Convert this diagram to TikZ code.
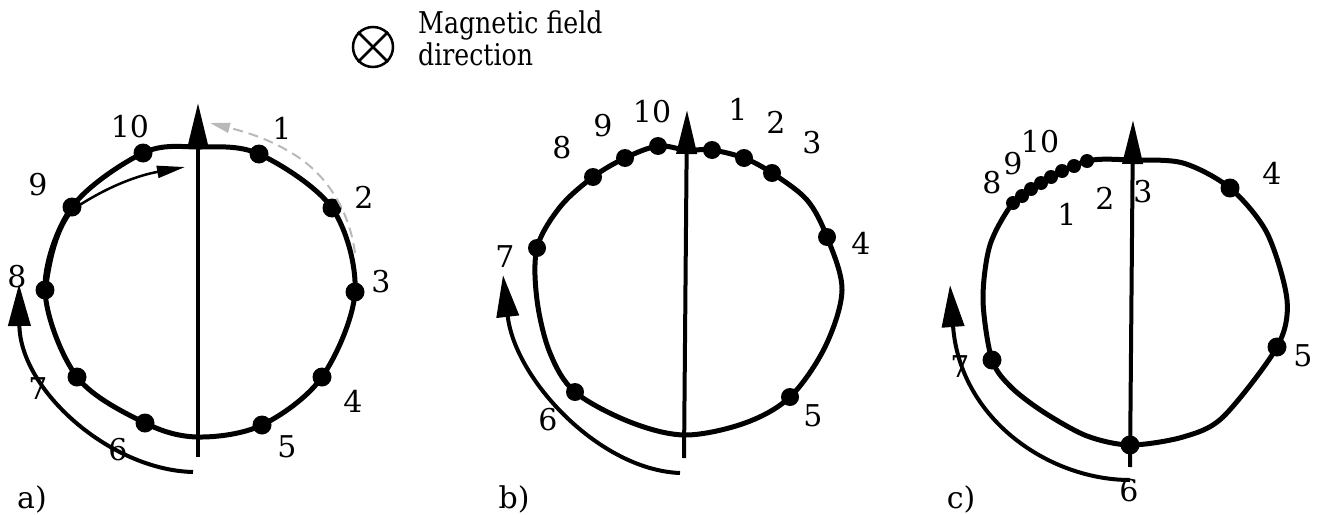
\documentclass[tikz,border=0pt]{standalone}
\usepackage{graphicx}
\usepackage{fontspec}
\setmainfont{DejaVu Serif}
\usetikzlibrary{arrows.meta}
\begin{document}
\begin{tikzpicture}[x=1pt,y=-1pt,
  loopline/.style={line width=5pt, line join=round},
  axisline/.style={line width=4pt, -{Triangle[width=20pt,length=44pt]}},
  motion/.style={line width=4pt, -{Triangle[width=22pt,length=42pt]}},
  thinarrow/.style={line width=2.5pt, -{Triangle[width=12pt,length=28pt]}},
  grayarrow/.style={line width=2pt, gray!55, dash pattern=on 10pt off 6pt, -{Triangle[width=10pt,length=20pt]}},
  dotnode/.style={circle, fill=black, inner sep=0pt, minimum size=19pt},
  smalldot/.style={circle, fill=black, inner sep=0pt, minimum size=14pt},
  lbl/.style={font=\fontsize{30}{32}\selectfont, inner sep=0pt}]
\useasboundingbox (0,0) rectangle (1319,514);

% ---------- legend ----------
\node[circle, draw, line width=2.5pt, minimum size=40pt, inner sep=0pt] (sym) at (373,47) {};
\draw[line width=2.5pt] (sym.45) -- (sym.225);
\draw[line width=2.5pt] (sym.135) -- (sym.315);
\node[lbl, anchor=north west, align=left] (legend) at (418,11) {\scalebox{0.84}[1]{Magnetic field}\\\scalebox{0.84}[1]{direction}};

% ---------- a) ----------
\coordinate (aT) at (198,147);
\coordinate (aB) at (198,437);
\coordinate (a1) at (259,154);
\coordinate (a2) at (332,208);
\coordinate (a3) at (355,292);
\coordinate (a4) at (322,377);
\coordinate (a5) at (262,425);
\coordinate (a6) at (145,423);
\coordinate (a7) at (77,377);
\coordinate (a8) at (45,290);
\coordinate (a9) at (72,207);
\coordinate (a10) at (143,153);
\draw[loopline] plot[smooth cycle, tension=0.55] coordinates {(aT) (a1) (a2) (a3) (a4) (a5) (aB) (a6) (a7) (a8) (a9) (a10)};
\foreach \i in {1,...,10} {\node[dotnode] (da\i) at (a\i) {};}
\coordinate (aAxB) at (198,457);
\coordinate (aAxT) at (198,103);
\draw[axisline] (aAxB) -- (aAxT);
\coordinate (aMs) at (193,472);
\coordinate (aMe) at (19,284);
\draw[motion] (aMs) .. controls (110,470) and (20,390) .. (aMe);
\coordinate (aIs) at (47,287);
\coordinate (aIm) at (75,208);
\coordinate (aIe) at (185,167);
\draw[thinarrow] (aIs) .. controls (52,250) and (60,225) .. (aIm) .. controls (110,185) and (140,175) .. (aIe);
\coordinate (aGs) at (355,253);
\coordinate (aGm) at (290,152);
\coordinate (aGe) at (210,123);
\draw[grayarrow] (aGs) .. controls (350,215) and (330,175) .. (aGm) .. controls (270,140) and (250,133) .. (aGe);
\node[lbl] (la10) at (130,127) {10};
\node[lbl] (la1) at (282,128) {1};
\node[lbl] (la2) at (364,197) {2};
\node[lbl] (la3) at (381,282) {3};
\node[lbl] (la4) at (353,401) {4};
\node[lbl] (la5) at (287,447) {5};
\node[lbl] (la6) at (118,450) {6};
\node[lbl] (la7) at (38,389) {7};
\node[lbl] (la8) at (17,277) {8};
\node[lbl] (la9) at (38,185) {9};
\node[lbl, anchor=base] (capa) at (32,508) {a)};

% ---------- b) ----------
\coordinate (bT) at (686,150);
\coordinate (b1) at (712,150);
\coordinate (b2) at (744,158);
\coordinate (b3) at (772,173);
\coordinate (bR1) at (807,200);
\coordinate (b4) at (827,237);
\coordinate (bR2) at (842,290);
\coordinate (bR3) at (825,347);
\coordinate (b5) at (790,397);
\coordinate (bB1) at (745,423);
\coordinate (bB) at (685,435);
\coordinate (bB2) at (630,422);
\coordinate (b6) at (575,392);
\coordinate (bL1) at (550,353);
\coordinate (bL2) at (537,300);
\coordinate (b7) at (537,248);
\coordinate (bL3) at (560,207);
\coordinate (b8) at (593,177);
\coordinate (b9) at (625,158);
\coordinate (b10) at (658,146);
\draw[loopline] plot[smooth cycle, tension=0.55] coordinates {(bT) (b1) (b2) (b3) (bR1) (b4) (bR2) (bR3) (b5) (bB1) (bB) (bB2) (b6) (bL1) (bL2) (b7) (bL3) (b8) (b9) (b10)};
\foreach \i in {1,...,10} {\node[dotnode, minimum size=18pt] (db\i) at (b\i) {};}
\coordinate (bAxB) at (684,458);
\coordinate (bAxT) at (687,110);
\draw[axisline] (bAxB) -- (bAxT);
\coordinate (bMs) at (680,473);
\coordinate (bMe) at (503,275);
\draw[motion] (bMs) .. controls (600,470) and (515,380) .. (bMe);
\node[lbl] (lb10) at (652,112) {10};
\node[lbl] (lb1) at (738,109) {1};
\node[lbl] (lb2) at (776,122) {2};
\node[lbl] (lb3) at (812,143) {3};
\node[lbl] (lb4) at (861,243) {4};
\node[lbl] (lb5) at (813,416) {5};
\node[lbl] (lb6) at (548,420) {6};
\node[lbl] (lb7) at (505,257) {7};
\node[lbl] (lb8) at (562,148) {8};
\node[lbl] (lb9) at (603,126) {9};
\node[lbl, anchor=base] (capb) at (514,508) {b)};

% ---------- c) ----------
\coordinate (cT) at (1132,160);
\coordinate (cR0) at (1183,163);
\coordinate (c4) at (1230,188);
\coordinate (cR1) at (1267,233);
\coordinate (cR2) at (1287,300);
\coordinate (c5) at (1277,347);
\coordinate (cR3) at (1223,417);
\coordinate (cB1) at (1183,437);
\coordinate (c6) at (1130,445);
\coordinate (cB2) at (1087,436);
\coordinate (cL0) at (1045,413);
\coordinate (cL1) at (1012,388);
\coordinate (c7) at (992,360);
\coordinate (cL2) at (983,300);
\coordinate (cL3) at (990,245);
\coordinate (k1) at (1013,203);
\coordinate (k2) at (1022,196);
\coordinate (k3) at (1031,189);
\coordinate (k4) at (1041,183);
\coordinate (k5) at (1051,177);
\coordinate (k6) at (1062,171);
\coordinate (k7) at (1074,166);
\coordinate (k8) at (1087,161);
\draw[loopline] plot[smooth cycle, tension=0.5] coordinates {(cT) (cR0) (c4) (cR1) (cR2) (c5) (cR3) (cB1) (c6) (cB2) (cL0) (cL1) (c7) (cL2) (cL3) (k1) (k4) (k8)};
\foreach \i in {4,...,7} {\node[dotnode] (dc\i) at (c\i) {};}
\foreach \i in {1,...,8} {\node[smalldot] (dk\i) at (k\i) {};}
\coordinate (cAxB) at (1130,467);
\coordinate (cAxT) at (1133,120);
\draw[axisline] (cAxB) -- (cAxT);
\coordinate (cMs) at (1130,480);
\coordinate (cMe) at (950,285);
\draw[motion] (cMs) .. controls (1050,480) and (960,420) .. (cMe);
\node[lbl] (lc8) at (992,183) {8};
\node[lbl] (lc9) at (1013,164) {9};
\node[lbl] (lc10) at (1040,142) {10};
\node[lbl] (lc1) at (1067,214) {1};
\node[lbl] (lc2) at (1105,198) {2};
\node[lbl] (lc3) at (1143,192) {3};
\node[lbl] (lc4) at (1272,173) {4};
\node[lbl] (lc5) at (1303,356) {5};
\node[lbl] (lc6) at (1129,491) {6};
\node[lbl] (lc7) at (960,367) {7};
\node[lbl, anchor=base] (capc) at (961,508) {c)};
\end{tikzpicture}
\end{document}
